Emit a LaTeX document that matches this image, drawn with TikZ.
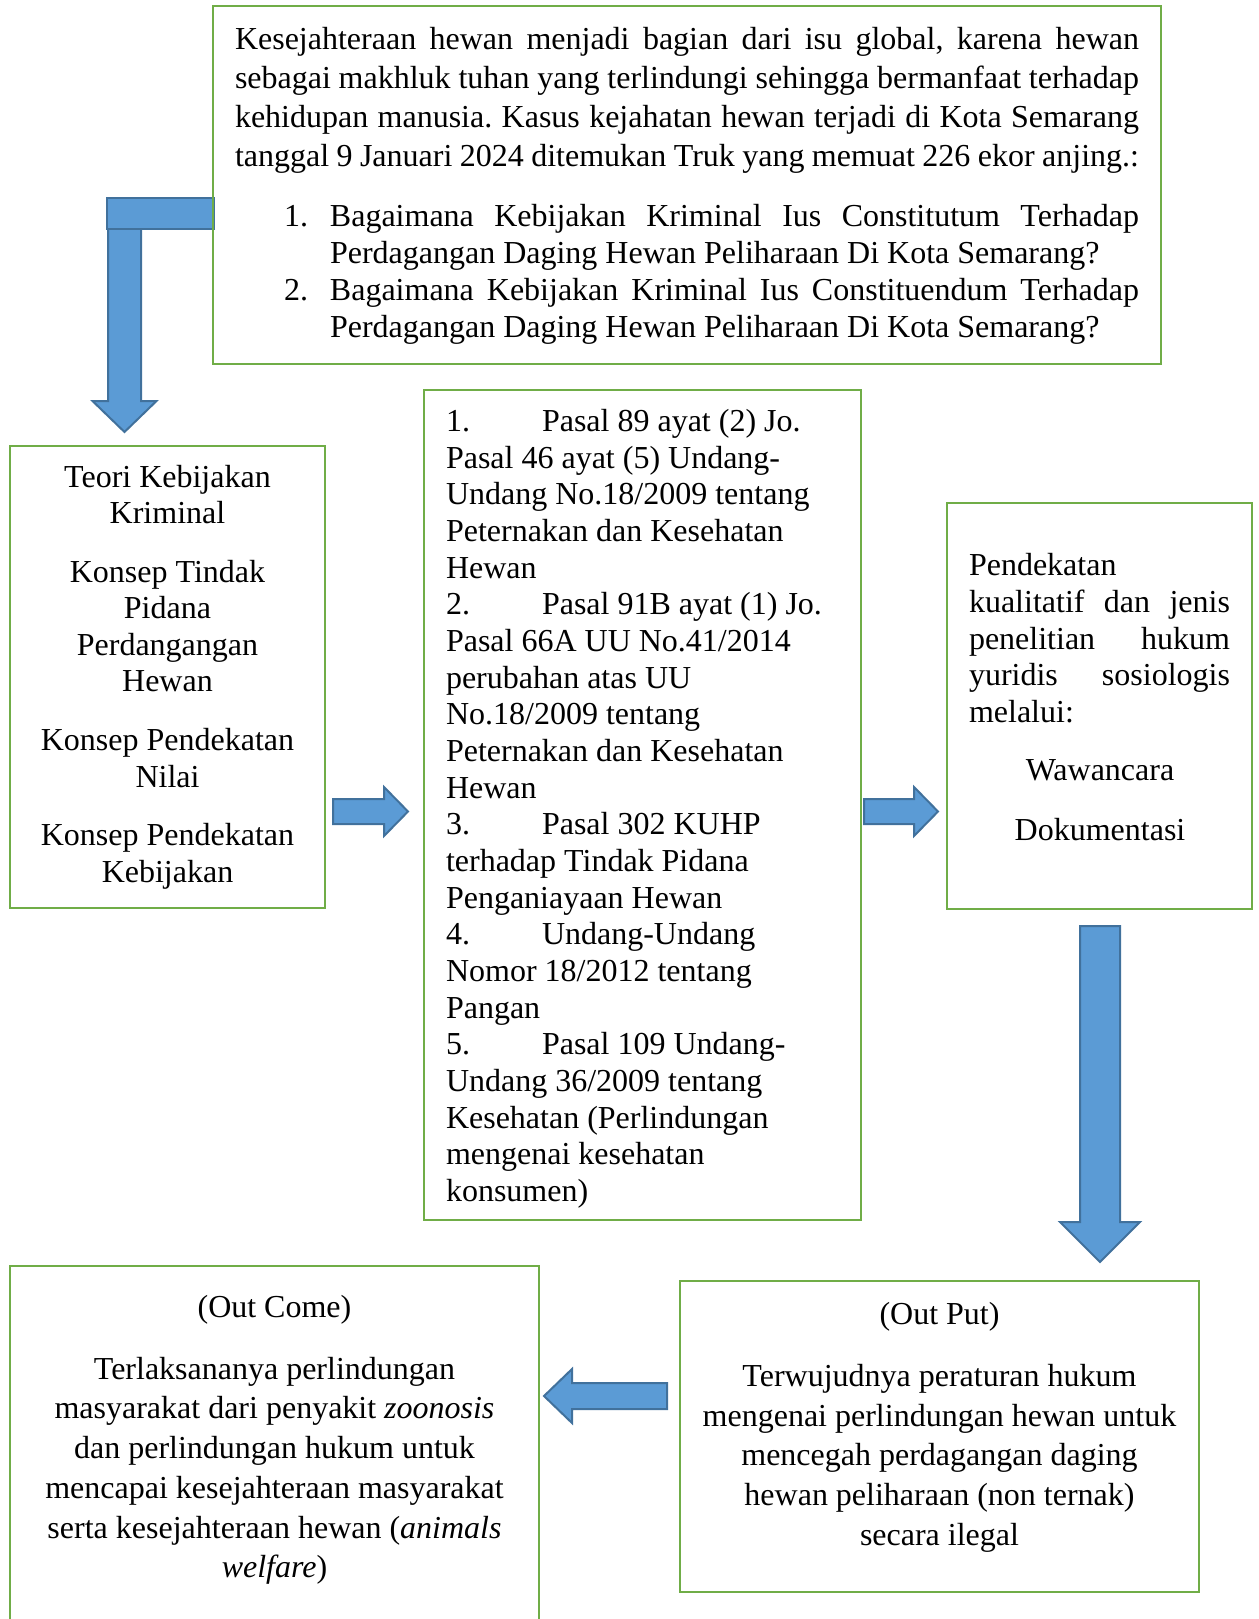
\documentclass[tikz,border=0pt]{standalone}
\usepackage{fontspec}
\setmainfont{Liberation Serif}
\frenchspacing
\definecolor{boxgreen}{HTML}{70AD47}
\definecolor{arrfill}{HTML}{5B9BD5}
\definecolor{arrline}{HTML}{41719C}
\newcommand\Jline[2]{\makebox[#1][s]{#2}}
\tikzset{
  frame/.style={draw=boxgreen, line width=2.5pt, inner sep=0pt, outer sep=0pt, rectangle, anchor=north west},
  barrow/.style={fill=arrfill, draw=arrline, line width=2pt, line join=miter},
  txt/.style={inner sep=0pt, outer sep=0pt, anchor=base west},
  ctxt/.style={inner sep=0pt, outer sep=0pt, anchor=base},
}
\begin{document}
\begin{tikzpicture}[x=1pt,y=-1pt]
\useasboundingbox (0,0) rectangle (1258,1619);

% ---------- block arrows ----------
\draw[barrow] (108,213) -- (141,213) -- (141,401) -- (156.5,401) -- (124.5,432) -- (92.5,401) -- (108,401) -- cycle;
\draw[barrow] (107,198) rectangle (214,229);
\draw[barrow] (333,799) -- (384,799) -- (384,787) -- (408,811.5) -- (384,836) -- (384,824) -- (333,824) -- cycle;
\draw[barrow] (864,799) -- (914,799) -- (914,787) -- (938,811.5) -- (914,836) -- (914,824) -- (864,824) -- cycle;
\draw[barrow] (1080,926) -- (1120,926) -- (1120,1222) -- (1140,1222) -- (1100,1262) -- (1060,1222) -- (1080,1222) -- cycle;
\draw[barrow] (667,1383) -- (572,1383) -- (572,1369) -- (544,1396) -- (572,1423) -- (572,1409) -- (667,1409) -- cycle;

% ---------- frames ----------
\node[frame, minimum width=948pt, minimum height=358pt] (topbox) at (213,6) {};
\node[frame, minimum width=315pt, minimum height=462pt] (leftbox) at (10,446) {};
\node[frame, minimum width=437pt, minimum height=830pt] (midbox) at (424,390) {};
\node[frame, minimum width=305pt, minimum height=406pt] (rightbox) at (947,503) {};
\node[frame, minimum width=519pt, minimum height=311pt] (outbox) at (680,1281) {};
\draw[boxgreen, line width=2.5pt] (10,1622) |- (539,1266) coordinate (comebox) -- (539,1622);

% ---------- texts ----------
\node[txt] (toppar) at (235,49) {\parbox[t]{904pt}{\fontsize{32}{39.2}\selectfont
\Jline{904pt}{Kesejahteraan hewan menjadi bagian dari isu global, karena hewan}\\
\Jline{904pt}{sebagai makhluk tuhan yang terlindungi sehingga bermanfaat terhadap}\\
\Jline{904pt}{kehidupan manusia. Kasus kejahatan hewan terjadi di Kota Semarang}\\
\Jline{904pt}{tanggal 9 Januari 2024 ditemukan Truk yang memuat 226 ekor anjing.:}}};

\node[txt] (toplist) at (284,226.5) {\parbox[t]{855pt}{\fontsize{32}{37.1}\selectfont
\makebox[46pt][l]{1.}\Jline{809pt}{Bagaimana Kebijakan Kriminal Ius Constitutum Terhadap}\\
\hspace*{46pt}Perdagangan Daging Hewan Peliharaan Di Kota Semarang?\\
\makebox[46pt][l]{2.}\Jline{809pt}{Bagaimana Kebijakan Kriminal Ius Constituendum Terhadap}\\
\hspace*{46pt}Perdagangan Daging Hewan Peliharaan Di Kota Semarang?}};

\node[ctxt] (lefttxt) at (167.5,487) {\parbox[t]{300pt}{\centering\fontsize{32}{36.6}\selectfont
Teori Kebijakan\\ Kriminal\\[21.9pt]
Konsep Tindak\\ Pidana\\ Perdangangan\\ Hewan\\[21.9pt]
Konsep Pendekatan\\ Nilai\\[21.9pt]
Konsep Pendekatan\\ Kebijakan}};

\node[txt] (midtxt) at (446,431.5) {\parbox[t]{410pt}{\fontsize{32}{36.67}\selectfont
\makebox[96pt][l]{1.}Pasal 89 ayat (2) Jo.\\
Pasal 46 ayat (5) Undang-\\
Undang No.18/2009 tentang\\
Peternakan dan Kesehatan\\
Hewan\\
\makebox[96pt][l]{2.}Pasal 91B ayat (1) Jo.\\
Pasal 66A UU No.41/2014\\
perubahan atas UU\\
No.18/2009 tentang\\
Peternakan dan Kesehatan\\
Hewan\\
\makebox[96pt][l]{3.}Pasal 302 KUHP\\
terhadap Tindak Pidana\\
Penganiayaan Hewan\\
\makebox[96pt][l]{4.}Undang-Undang\\
Nomor 18/2012 tentang\\
Pangan\\
\makebox[96pt][l]{5.}Pasal 109 Undang-\\
Undang 36/2009 tentang\\
Kesehatan (Perlindungan\\
mengenai kesehatan\\
konsumen)}};

\node[txt] (righttxt) at (969,575.5) {\parbox[t]{261pt}{\fontsize{32}{36.75}\selectfont
Pendekatan\\
\Jline{261pt}{kualitatif dan jenis}\\
\Jline{261pt}{penelitian hukum}\\
\Jline{261pt}{yuridis sosiologis}\\
melalui:}};
\node[ctxt, font=\fontsize{32}{36}\selectfont] (waw) at (1100,780.5) {Wawancara};
\node[ctxt, font=\fontsize{32}{36}\selectfont] (dok) at (1100,840) {Dokumentasi};

\node[ctxt] (outtxt) at (939.5,1324.5) {\parbox[t]{500pt}{\centering\fontsize{32}{39.8}\selectfont
(Out Put)\\[22pt]
Terwujudnya peraturan hukum\\
mengenai perlindungan hewan untuk\\
mencegah perdagangan daging\\
hewan peliharaan (non ternak)\\
secara ilegal}};

\node[ctxt] (cometxt) at (274.5,1317.5) {\parbox[t]{520pt}{\centering\fontsize{32}{39.7}\selectfont
(Out Come)\\[22pt]
Terlaksananya perlindungan\\
masyarakat dari penyakit \textit{zoonosis}\\
dan perlindungan hukum untuk\\
mencapai kesejahteraan masyarakat\\
serta kesejahteraan hewan (\textit{animals}\\
\textit{welfare})}};
\end{tikzpicture}
\end{document}
